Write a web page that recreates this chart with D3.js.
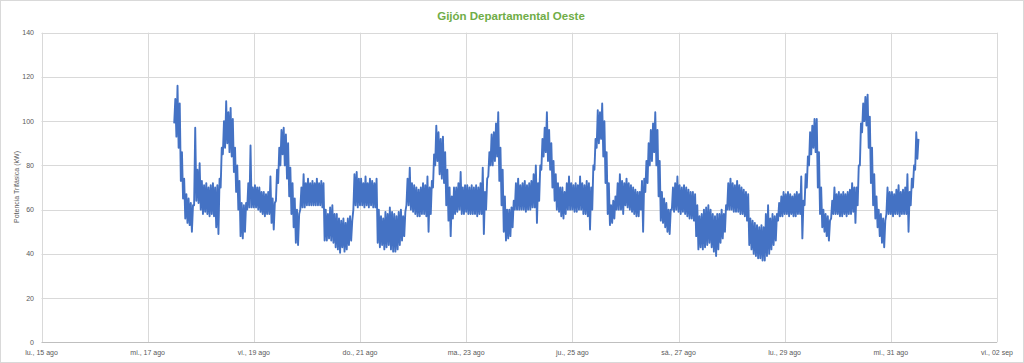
<!DOCTYPE html>
<html><head><meta charset="utf-8">
<script src="https://cdn.jsdelivr.net/npm/d3@7"></script>
<style>body{margin:0;background:#fff}svg{display:block}</style>
</head><body><svg id="c" width="1024" height="363"></svg>
<script>
const chartTitle = "Gijón Departamental Oeste";
const yAxisTitle = "Potencia Trifásica (kW)";
const tickDates = ["2022-08-15","2022-08-17","2022-08-19","2022-08-21","2022-08-23","2022-08-25","2022-08-27","2022-08-29","2022-08-31","2022-09-02"];
const tickLabels = ["lu., 15 ago","mi., 17 ago","vi., 19 ago","do., 21 ago","ma., 23 ago","ju., 25 ago","sá., 27 ago","lu., 29 ago","mi., 31 ago","vi., 02 sep"];
const yTicks = [0,20,40,60,80,100,120,140];
const seriesStart = "2022-08-17T12:00";
// hourly low / high readings (kW)
const lowKW = [
 99,93,88,73,65,56,54,53,50,62,64,63,
 60,58,59,58,57,58,57,52,49,70,85,88,90,86,84,77,68,60,48,47,50,60,61,61,
 61,61,60,59,58,57,58,58,54,51,64,72,80,85,80,74,66,58,52,45,44,60,61,61,
 62,62,62,62,62,62,62,61,46,46,47,46,45,43,42,40.5,43,41,42,44,46,60,62,61,
 62,62,61,62,61,62,61,61,45,43,44,42,43,44,42,41,41,42,44,46,48,62,62,60,
 59,58,57,57,58,58,57,50,58,70,80,82,76,74,72,62,55,48,56,58,59,60,58,58,
 59,58,58,58,58,57,58,58,49,60,75,80,80,82,84,73,62,50,46,47,48,52,60,60,
 60,60,60,59,60,60,61,61,54,64,78,84,86,82,78,70,64,60,59,57,56,58,60,60,
 60,59,59,60,60,58,58,57,51,60,78,88,90,92,84,72,58,53,54,56,60,60,60,58,
 62,61,60,59,58,57,57,60,50,68,72,80,82,86,80,66,55,54,52,50,49,60,59,60,
 59,58,59,58,57,56,56,55,48,42,43,42,43,44,45,43,41,39,42,45,47,50,60,60,
 60,59,59,59,58,58,57,55,44,42,40,39,38,38,37,37,39,40,42,44,46,55,57,57,
 58,58,57,58,57,57,58,58,47,62,70,80,85,88,86,70,58,52,50,48,46,56,58,58,
 58,57,57,58,57,58,58,59,54,62,80,95,100,98,88,72,62,56,52,48,45,43,58,58,
 58,57,58,58,57,58,58,58,50,62,70,78,83
];
const highKW = [
 110,116,108,86,74,67,65,63,62,97,78,81,
 73,71,72,70,71,72,70,71,74,88,100,109,104,106,101,88,80,73,63,62,63,72,89,70,
 71,70,70,68,68,67,68,75,65,63,78,88,96,97,94,90,79,72,65,60,58,70,76,72,
 74,72,73,72,74,72,73,72,60,58,61,62,58,58,56,55,56,54,56,57,55,76,77,74,
 74,72,75,72,74,73,72,74,60,57,56,59,58,61,59,58,57,59,60,57,59,74,79,72,
 71,70,69,70,72,71,75,70,73,85,98,95,92,93,86,78,70,66,70,70,72,77,70,71,
 71,70,71,70,71,70,72,79,68,74,86,94,95,99,104,88,78,66,60,60,61,64,72,74,
 71,72,73,71,72,73,76,80,72,80,92,97,104,96,90,82,76,72,70,70,68,72,75,72,
 71,72,71,75,72,71,73,72,70,80,92,105,104,108,100,86,72,62,64,66,72,76,73,72,
 74,72,71,70,69,68,68,73,74,82,90,96,99,104,96,82,68,65,63,60,60,70,72,75,
 71,70,71,70,69,68,68,67,62,57,58,60,61,62,60,58,57,58,58,60,58,62,72,74,
 72,71,73,71,70,69,68,67,56,55,54,53,52,53,52,58,62,56,58,57,58,63,66,68,
 67,68,67,66,67,68,67,75,64,76,84,95,98,101,101,86,70,60,58,57,55,64,70,67,
 68,67,68,67,68,69,72,70,70,80,99,108,111,112,102,88,76,66,60,58,56,55,70,68,
 68,67,69,71,68,69,70,76,68,74,80,95,92
];

const svg = d3.select("#c");
const W = 1024, H = 363;
const pLeft = 41.5, pRight = 997, pTop = 32.7, pBottom = 342.3;
const parseDay = d3.timeParse("%Y-%m-%d");
const parseT = d3.timeParse("%Y-%m-%dT%H:%M");
const tickDatesParsed = tickDates.map(parseDay);
const x = d3.scaleTime().domain([tickDatesParsed[0], tickDatesParsed[tickDatesParsed.length-1]]).range([pLeft, pRight]);
const y = d3.scaleLinear().domain([0, 140]).range([pBottom, pTop]);

svg.append("rect").attr("x",0.5).attr("y",0.5).attr("width",W-1).attr("height",H-1)
  .attr("fill","#fff").attr("stroke","#d9d9d9");

svg.append("g").selectAll("line").data(yTicks.filter(d=>d>0)).join("line")
  .attr("x1", pLeft).attr("x2", pRight)
  .attr("y1", d=>Math.round(y(d))+0.5).attr("y2", d=>Math.round(y(d))+0.5)
  .attr("stroke","#d9d9d9").attr("stroke-width",1);
svg.append("g").selectAll("line").data(tickDatesParsed).join("line")
  .attr("x1", d=>Math.round(x(d))+0.5).attr("x2", d=>Math.round(x(d))+0.5)
  .attr("y1", pTop).attr("y2", pBottom)
  .attr("stroke","#d9d9d9").attr("stroke-width",1);
svg.append("line").attr("x1",pLeft).attr("x2",pRight)
  .attr("y1",Math.round(pBottom)+0.5).attr("y2",Math.round(pBottom)+0.5)
  .attr("stroke","#bfbfbf");

const font = "Liberation Sans, Arial, sans-serif";
svg.append("g").selectAll("text").data(yTicks).join("text")
  .attr("x", 34).attr("y", d=>y(d)).attr("dy","0.35em")
  .attr("text-anchor","end").attr("font-family",font).attr("font-size",7)
  .attr("fill","#595959").text(d=>d);
svg.append("g").selectAll("text").data(tickDatesParsed).join("text")
  .attr("x", d=>x(d)).attr("y", 353).attr("dy","0.35em")
  .attr("text-anchor","middle").attr("font-family",font).attr("font-size",7)
  .attr("fill","#595959").text((d,i)=>tickLabels[i]);
svg.append("text").attr("transform","translate(17,187) rotate(-90)")
  .attr("text-anchor","middle").attr("dy","0.35em").attr("font-family",font)
  .attr("font-size",7).attr("fill","#595959").text(yAxisTitle);
svg.append("text").attr("x",511).attr("y",16).attr("dy","0.35em")
  .attr("text-anchor","middle").attr("font-family",font).attr("font-weight","bold")
  .attr("font-size",11.5).attr("fill","#70AD47").text(chartTitle);

const t0 = parseT(seriesStart);
const pts = [];
lowKW.forEach((lo,i)=>{
  const ta = d3.timeHour.offset(t0, i);
  pts.push([ta, lo]);
  pts.push([d3.timeMinute.offset(ta, 30), highKW[i]]);
});
const line = d3.line().x(d=>x(d[0])).y(d=>y(d[1]));
svg.append("path").datum(pts).attr("d", line)
  .attr("fill","none").attr("stroke","#4472C4").attr("stroke-width",1.9)
  .attr("stroke-linejoin","round");
</script></body></html>
